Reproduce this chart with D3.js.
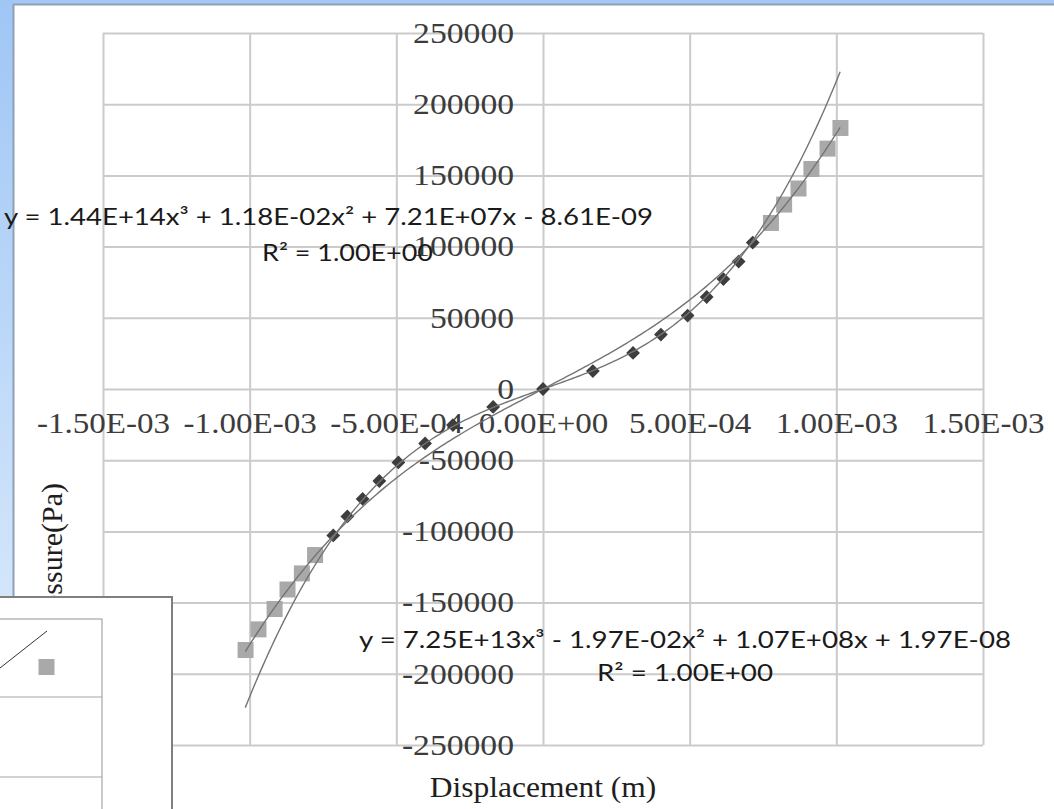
<!DOCTYPE html>
<html>
<head>
<meta charset="utf-8">
<script src="https://cdn.jsdelivr.net/npm/d3@7/dist/d3.min.js"></script>
<style>
  html, body { margin: 0; padding: 0; background: #ffffff; }
  svg { display: block; }
</style>
</head>
<body>
<svg id="chart" width="1054" height="809"></svg>
<script>
// ---------------- data ----------------
// Series 1 (dark diamonds)
const diamondX = [-7.15e-4, -6.67e-4, -6.15e-4, -5.58e-4, -4.93e-4, -4.02e-4, -3.07e-4, -1.70e-4, 0,
                   1.70e-4, 3.07e-4, 4.02e-4, 4.93e-4, 5.58e-4, 6.15e-4, 6.67e-4, 7.15e-4];
const diamondY = [-102800, -89500, -77200, -64600, -51600, -38200, -25300, -12600, 0,
                   12600, 25300, 38200, 51600, 64600, 77200, 89500, 102800];
// Series 2 (grey squares)
const squareX = [-1.014e-3, -9.70e-4, -9.15e-4, -8.71e-4, -8.22e-4, -7.77e-4,
                  7.77e-4, 8.22e-4, 8.71e-4, 9.15e-4, 9.70e-4, 1.014e-3];
const squareY = [-183300, -168800, -154500, -140800, -129500, -116600,
                  116600, 129500, 140800, 154500, 168800, 183300];
// Polynomial trendlines as printed on the chart (c3, c2, c1, c0)
const trend1Coef = [1.44e14, 1.18e-2, 7.21e7, -8.61e-9];
const trend2Coef = [7.25e13, -1.97e-2, 1.07e8, 1.97e-8];
const trendRange = [-1.015e-3, 1.013e-3];
const trend1Label = ["y = 1.44E+14x³ + 1.18E-02x² + 7.21E+07x - 8.61E-09", "R² = 1.00E+00"];
const trend2Label = ["y = 7.25E+13x³ - 1.97E-02x² + 1.07E+08x + 1.97E-08", "R² = 1.00E+00"];
// Axes
const xTicks = [-1.5e-3, -1.0e-3, -5.0e-4, 0, 5.0e-4, 1.0e-3, 1.5e-3];
const xTickLabels = ["-1.50E-03", "-1.00E-03", "-5.00E-04", "0.00E+00", "5.00E-04", "1.00E-03", "1.50E-03"];
const yTicks = [250000, 200000, 150000, 100000, 50000, 0, -50000, -100000, -150000, -200000, -250000];
const yTickLabels = ["250000", "200000", "150000", "100000", "50000", "0", "-50000", "-100000", "-150000", "-200000", "-250000"];
const xTitle = "Displacement (m)";
const yTitle = "Pressure(Pa)";
const legendSymbols = ["line", "square"];

// ---------------- layout ----------------
const svg = d3.select("#chart");
const W = 1054, H = 809;
const plot = { left: 103, right: 983, top: 33, bottom: 745 };

const x = d3.scaleLinear().domain([-1.5e-3, 1.5e-3]).range([plot.left, plot.right]);
const y = d3.scaleLinear().domain([-250000, 250000]).range([plot.bottom, plot.top]);

// widen text horizontally (the reference is slightly stretched)
function stretch(sel, k) {
  sel.each(function () {
    const len = this.getComputedTextLength();
    d3.select(this).attr("textLength", len * k).attr("lengthAdjust", "spacingAndGlyphs");
  });
}

// background
svg.append("rect").attr("x", 0).attr("y", 0).attr("width", W).attr("height", H).attr("fill", "#ffffff");

// window frame (blue)
const defs = svg.append("defs");
const grad = defs.append("linearGradient").attr("id", "blueGrad").attr("x1", 0).attr("y1", 0).attr("x2", 0).attr("y2", 1);
grad.append("stop").attr("offset", "0%").attr("stop-color", "#9fc6f5");
grad.append("stop").attr("offset", "100%").attr("stop-color", "#d3e6fb");
svg.append("rect").attr("x", 0).attr("y", 0).attr("width", W).attr("height", 4).attr("fill", "#a3c8f5");
svg.append("rect").attr("x", 0).attr("y", 0).attr("width", 13).attr("height", 600).attr("fill", "url(#blueGrad)");
svg.append("line").attr("x1", 13.5).attr("x2", 13.5).attr("y1", 4).attr("y2", 600).attr("stroke", "#8e9fb6").attr("stroke-width", 2);
svg.append("line").attr("x1", 13).attr("x2", W).attr("y1", 4.5).attr("y2", 4.5).attr("stroke", "#8e9fb6").attr("stroke-width", 2);

// gridlines
const gridColor = "#cbcbcb";
const gx = svg.append("g").attr("transform", `translate(0,${plot.bottom})`)
  .call(d3.axisBottom(x).tickValues(xTicks).tickSize(-(plot.bottom - plot.top)).tickFormat(""));
gx.select(".domain").remove();
gx.selectAll(".tick line").attr("stroke", gridColor).attr("stroke-width", 2);
const gy = svg.append("g").attr("transform", `translate(${plot.left},0)`)
  .call(d3.axisLeft(y).tickValues(yTicks).tickSize(-(plot.right - plot.left)).tickFormat(""));
gy.select(".domain").remove();
gy.selectAll(".tick line").attr("stroke", gridColor).attr("stroke-width", 2);

// tick labels (axes crossing at zero)
const labelFont = "'Liberation Serif', 'Times New Roman', serif";
const ax = svg.append("g").attr("transform", `translate(0,${y(0)})`)
  .call(d3.axisBottom(x).tickValues(xTicks).tickSize(0).tickPadding(23)
    .tickFormat((d, i) => xTickLabels[i]));
ax.select(".domain").remove();
ax.selectAll("text").attr("font-family", labelFont).attr("font-size", 29).attr("fill", "#3c3c3c");
stretch(ax.selectAll("text"), 1.14);

const ay = svg.append("g").attr("transform", `translate(${x(0)},0)`)
  .call(d3.axisLeft(y).tickValues(yTicks).tickSize(0).tickPadding(29)
    .tickFormat((d, i) => yTickLabels[i]));
ay.select(".domain").remove();
ay.selectAll("text").attr("font-family", labelFont).attr("font-size", 29).attr("fill", "#3c3c3c");
stretch(ay.selectAll("text"), 1.16);

// axis titles
const xt = svg.append("text").attr("x", 543).attr("y", 797).attr("text-anchor", "middle")
  .attr("font-family", labelFont).attr("font-size", 30).attr("fill", "#1e1e1e").text(xTitle);
stretch(xt, 1.05);
svg.append("text").attr("transform", "translate(62,483) rotate(-90)").attr("text-anchor", "end")
  .attr("font-family", labelFont).attr("font-size", 30).attr("fill", "#1e1e1e").text(yTitle);

// series markers
svg.append("g").selectAll("rect").data(squareX.map((v, i) => [v, squareY[i]])).join("rect")
  .attr("x", d => x(d[0]) - 8).attr("y", d => y(d[1]) - 8)
  .attr("width", 16).attr("height", 16).attr("fill", "#a9a9a9");

svg.append("g").selectAll("path").data(diamondX.map((v, i) => [v, diamondY[i]])).join("path")
  .attr("transform", d => `translate(${x(d[0])},${y(d[1])}) rotate(45)`)
  .attr("d", d3.symbol().type(d3.symbolSquare).size(95))
  .attr("fill", "#3d3d3d");

// trendlines
function poly(c, v) { return c[0] * v * v * v + c[1] * v * v + c[2] * v + c[3]; }
const tx = d3.range(0, 201).map(i => trendRange[0] + (trendRange[1] - trendRange[0]) * i / 200);
const lineGen = d3.line().x(d => x(d[0])).y(d => y(d[1])).curve(d3.curveLinear);
[trend1Coef, trend2Coef].forEach(c => {
  svg.append("path").datum(tx.map(v => [v, poly(c, v)]))
    .attr("d", lineGen).attr("fill", "none").attr("stroke", "#747474").attr("stroke-width", 1.4);
});

// trendline equations
const eqFont = "Lato, 'Open Sans', sans-serif";
function eq(lines, pos) {
  lines.forEach((t, i) => {
    svg.append("text").attr("x", pos[i][0]).attr("y", pos[i][1])
      .attr("textLength", pos[i][2]).attr("lengthAdjust", "spacingAndGlyphs")
      .attr("font-family", eqFont).attr("font-size", 24).attr("fill", "#1a1a1a").text(t);
  });
}
eq(trend1Label, [[4, 225, 649], [262, 261, 171]]);
eq(trend2Label, [[359, 648, 652], [597, 681, 176]]);

// legend (partially visible, cropped at left/bottom)
const lg = svg.append("g");
lg.append("rect").attr("x", -3).attr("y", 597).attr("width", 175).attr("height", 230)
  .attr("fill", "#ffffff").attr("stroke", "#7f7f7f").attr("stroke-width", 2);
lg.append("rect").attr("x", -3).attr("y", 619).attr("width", 105).attr("height", 230)
  .attr("fill", "none").attr("stroke", "#a6a6a6").attr("stroke-width", 1.2);
[697, 777].forEach(v => lg.append("line").attr("x1", -3).attr("x2", 102).attr("y1", v).attr("y2", v)
  .attr("stroke", "#a6a6a6").attr("stroke-width", 1.2));
legendSymbols.forEach(s => {
  if (s === "line") lg.append("line").attr("x1", 0).attr("y1", 668).attr("x2", 47).attr("y2", 631)
    .attr("stroke", "#333").attr("stroke-width", 1);
  else lg.append("rect").attr("x", 38.5).attr("y", 659).attr("width", 16).attr("height", 16).attr("fill", "#a9a9a9");
});
</script>
</body>
</html>
